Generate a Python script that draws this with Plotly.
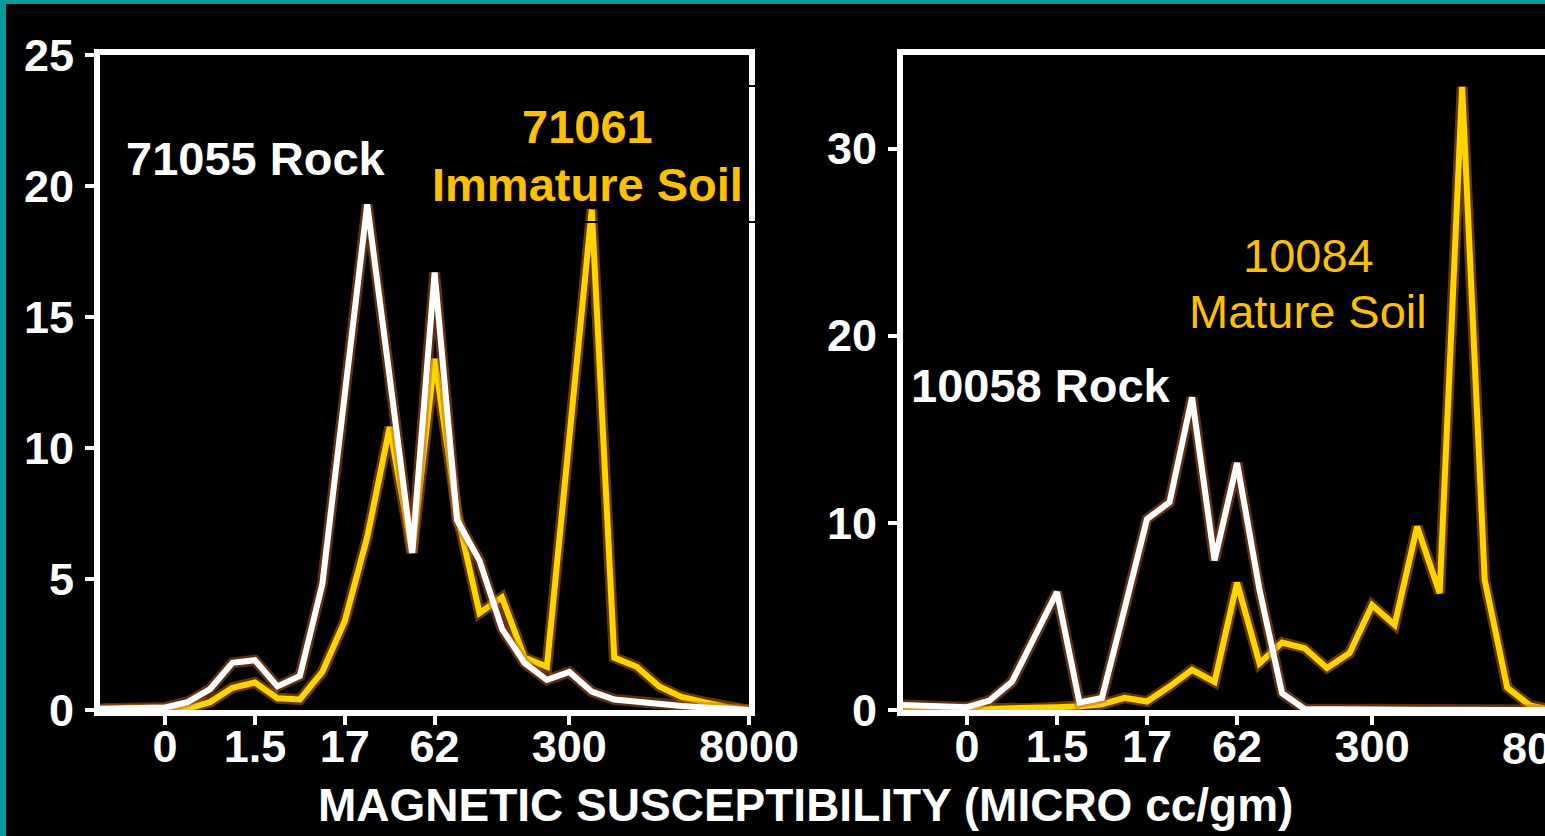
import plotly.graph_objects as go

W, H = 1545, 836

# ---- data (bin index on a log-like susceptibility scale) ----
bins = [-1.5, -1, -0.5, 0, 0.5, 1, 1.5, 2, 2.5, 3, 3.5, 4, 4.5, 5, 5.5,
        6, 6.5, 7, 7.5, 8, 8.5, 9, 9.5, 10, 10.5, 11, 11.5, 12, 12.5, 13]
x_tick_pos = [0, 2, 4, 6, 9, 13]
x_tick_text = ["0", "1.5", "17", "62", "300", "8000"]

rock_71055 = [0.05, 0.05, 0.05, 0.1, 0.3, 0.8, 1.8, 1.9, 0.9, 1.3, 4.8, 12.0, 19.3, 12.7, 6.0,
              16.7, 7.25, 5.7, 3.1, 1.8, 1.15, 1.45, 0.7, 0.4, 0.3, 0.2, 0.15, 0.1, 0.05, 0.0]
soil_71061 = [0.0, 0.0, 0.0, 0.0, 0.05, 0.3, 0.85, 1.05, 0.45, 0.4, 1.45, 3.4, 6.6, 10.8, 6.0,
              13.4, 7.5, 3.7, 4.3, 2.0, 1.65, 10.4, 19.1, 2.0, 1.65, 0.9, 0.5, 0.3, 0.12, 0.0]
rock_10058 = [0.27, 0.25, 0.2, 0.15, 0.5, 1.5, 3.9, 6.3, 0.4, 0.65, 5.4, 10.2, 11.1, 16.7, 8.0,
              13.2, 6.4, 0.9, 0.05, 0.03, 0.02, 0.02, 0.02, 0.02, 0.02, 0.02, 0.02, 0.02, 0.02, 0.0]
soil_10084 = [0.0, 0.0, 0.0, 0.0, 0.05, 0.1, 0.1, 0.15, 0.2, 0.3, 0.65, 0.45, 1.25, 2.15, 1.5,
              6.8, 2.5, 3.6, 3.3, 2.25, 3.05, 5.6, 4.55, 9.8, 6.25, 33.3, 6.95, 1.2, 0.25, 0.0]

left_y_ticks = [0, 5, 10, 15, 20, 25]
right_y_ticks = [0, 10, 20, 30]

WHITE = "#FFFFFF"
YELLOW_LINE = "#FFD400"
YELLOW_TEXT = "#FFC000"
WHITE_GLOW = "rgba(185,95,40,0.5)"
YELLOW_GLOW = "rgba(200,110,10,0.5)"
TEAL = "#009C9C"
FONT = "Liberation Sans, Arial, sans-serif"

fig = go.Figure()


def add_curve(y, color, glow, xa, ya):
    fig.add_trace(go.Scatter(x=bins, y=y, mode="lines", xaxis=xa, yaxis=ya,
                             line=dict(color=glow, width=11), hoverinfo="skip",
                             showlegend=False))
    fig.add_trace(go.Scatter(x=bins, y=y, mode="lines", xaxis=xa, yaxis=ya,
                             line=dict(color=color, width=6), showlegend=False))


add_curve(soil_71061, YELLOW_LINE, YELLOW_GLOW, "x", "y")
add_curve(rock_71055, WHITE, WHITE_GLOW, "x", "y")
add_curve(soil_10084, YELLOW_LINE, YELLOW_GLOW, "x2", "y2")
add_curve(rock_10058, WHITE, WHITE_GLOW, "x2", "y2")

tickfont = dict(family=FONT, size=45, color=WHITE, weight="bold")
ydom = [1 - 710 / H, 1 - 55 / H]

common_x = dict(tickmode="array", tickvals=x_tick_pos, ticktext=x_tick_text,
                showline=True, linecolor=WHITE, linewidth=6, ticks="outside",
                ticklen=9, tickwidth=4, tickcolor=WHITE, tickfont=tickfont,
                showgrid=False, zeroline=False, ticklabelstandoff=-17,
                fixedrange=True)
common_y = dict(showline=True, linecolor=WHITE, linewidth=6, ticks="outside",
                ticklen=9, tickwidth=4, tickcolor=WHITE, tickfont=tickfont,
                showgrid=False, zeroline=False, ticklabelstandoff=2,
                fixedrange=True)

fig.update_layout(
    width=W, height=H,
    margin=dict(l=0, r=0, t=0, b=0, pad=0, autoexpand=False),
    paper_bgcolor="#000000", plot_bgcolor="#000000",
    showlegend=False,
    xaxis=dict(domain=[100 / W, 749 / W], range=[-1.45, 13.0], anchor="y",
               mirror=True, **common_x),
    yaxis=dict(domain=ydom, range=[0, 25], anchor="x", mirror=True,
               tickvals=left_y_ticks, **common_y),
    xaxis2=dict(domain=[903 / W, 1.0], range=[-1.42, 12.84], anchor="y2",
                mirror=True, **common_x),
    yaxis2=dict(domain=ydom, range=[0, 35.0], anchor="x2", mirror=False,
                tickvals=right_y_ticks, **common_y),
)


def px(xp, yp):
    return xp / W, 1 - yp / H


annots = [
    ("71055 Rock", 256, 158, WHITE, "bold"),
    ("71061", 587, 127, YELLOW_TEXT, "bold"),
    ("Immature Soil", 587, 185, YELLOW_TEXT, "bold"),
    ("10058 Rock", 1041, 385, WHITE, "bold"),
    ("10084", 1308, 255, YELLOW_TEXT, "normal"),
    ("Mature Soil", 1308, 312, YELLOW_TEXT, "normal"),
]
for text, ax_, ay_, col, wt in annots:
    xx, yy = px(ax_, ay_)
    fig.add_annotation(x=xx, y=yy, xref="paper", yref="paper", text=text,
                       showarrow=False, xanchor="center", yanchor="middle",
                       font=dict(family=FONT, size=47, color=col, weight=wt))

# x-axis title shared by both panels
xx, yy = px(805, 805)
fig.add_annotation(x=xx, y=yy, xref="paper", yref="paper",
                   text="MAGNETIC SUSCEPTIBILITY (MICRO cc/gm)", showarrow=False,
                   xanchor="center", yanchor="middle",
                   font=dict(family=FONT, size=46, color=WHITE, weight="bold"))

# last tick label of the right panel, cut by the picture edge
xx, yy = px(1552, 748)
fig.add_annotation(x=xx, y=yy, xref="paper", yref="paper", text=x_tick_text[-1],
                   showarrow=False, xanchor="center", yanchor="middle",
                   font=tickfont)

# faint text-box outline visible where it crosses bright lines
x0, y1 = px(420, 86)
x1, y0 = px(763, 222)
fig.add_shape(type="rect", xref="paper", yref="paper", x0=x0, x1=x1, y0=y0, y1=y1,
              line=dict(color="#000000", width=2), layer="above")

# teal frame of the slide (left and top edges)
fig.add_shape(type="rect", xref="paper", yref="paper", x0=0, x1=6 / W, y0=0, y1=1,
              fillcolor=TEAL, line=dict(width=0), layer="above")
fig.add_shape(type="rect", xref="paper", yref="paper", x0=0, x1=1, y0=1 - 4 / H, y1=1,
              fillcolor=TEAL, line=dict(width=0), layer="above")

fig.write_html("out.html")
